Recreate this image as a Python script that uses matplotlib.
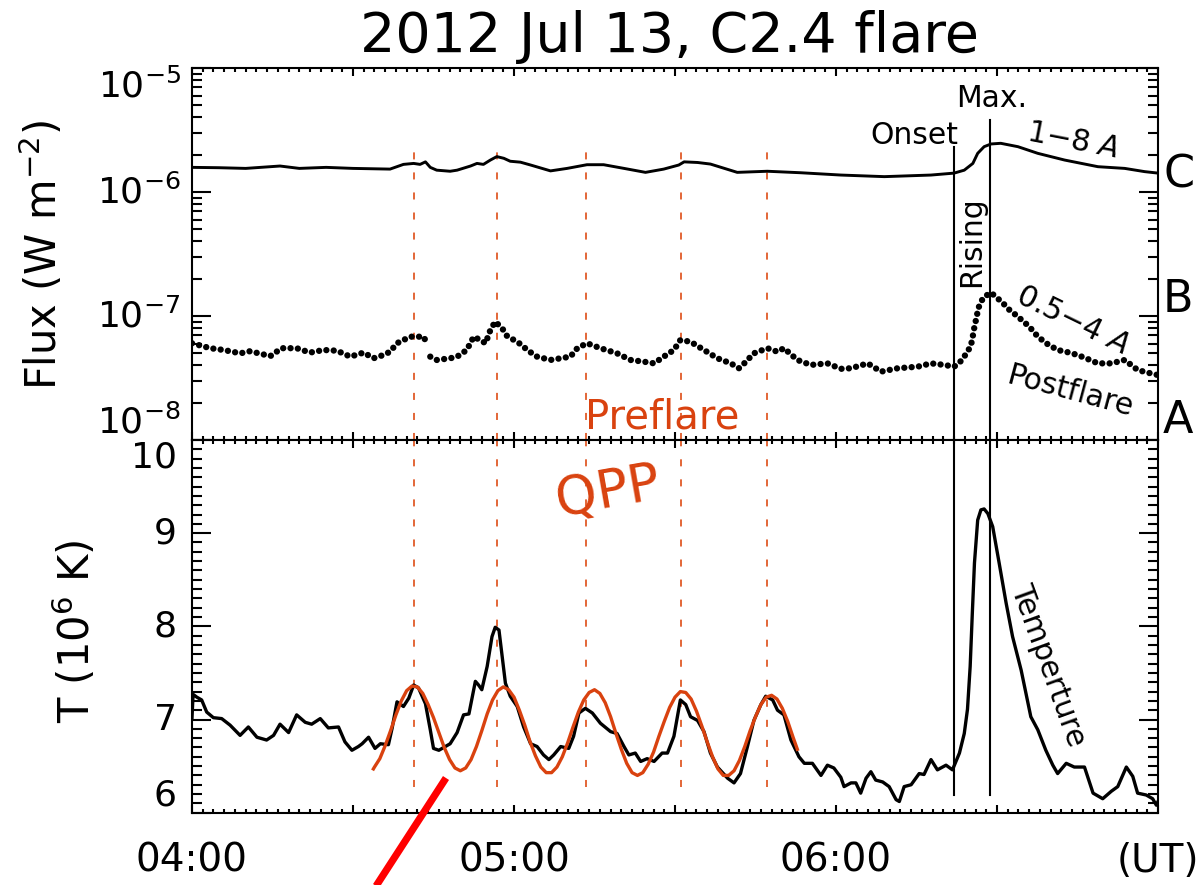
import numpy as np
import matplotlib
matplotlib.use("Agg")
import matplotlib.pyplot as plt
from matplotlib.ticker import MultipleLocator, LogLocator, NullFormatter
from matplotlib.lines import Line2D

# ---------------- data (time in minutes after 04:00 UT) ----------------
# GOES 1-8 A flux, units of 1e-6 W m^-2
t_long = [0, 5, 10, 16.4, 20, 25, 30, 36.9, 39.4, 41.3, 42.5, 43.5, 44.4, 45.6,
          48.1, 49.4, 51.9, 53.1, 54.3, 55.6, 56.8, 58.1, 59.3, 61.2, 63.1, 66.8,
          69.9, 73.6, 76.7, 80.5, 84.5, 87.9, 90.7, 91.7, 94.2, 96.6, 101.6, 107.2,
          113.4, 120.9, 129, 137.7, 142, 143.9, 145.5, 146.4, 147.6, 148.9, 150.7,
          153.9, 157.6, 162.6, 168.8, 173.8, 177.5, 180]
flux_long = [1.58, 1.57, 1.55, 1.62, 1.55, 1.58, 1.55, 1.53, 1.67, 1.70, 1.67, 1.75,
             1.58, 1.50, 1.47, 1.50, 1.62, 1.70, 1.67, 1.81, 1.93, 1.87, 1.77, 1.74,
             1.65, 1.48, 1.55, 1.66, 1.66, 1.55, 1.44, 1.53, 1.65, 1.75, 1.73, 1.68,
             1.44, 1.47, 1.43, 1.37, 1.33, 1.37, 1.42, 1.50, 1.70, 2.05, 2.32, 2.44,
             2.47, 2.32, 2.05, 1.81, 1.60, 1.55, 1.46, 1.42]

# GOES 0.5-4 A flux, units of 1e-8 W m^-2 (nan = data gap)
t_short = [0, 3.4, 5.9, 9.0, 10.8, 14.6, 16.7, 19.5, 22.0, 24.5, 27.0, 29.5, 32.0,
           33.8, 35.7, 36.9, 38.2, 39.4, 40.7, 41.9, 43.2, 43.8, 44.1, 44.4, 45.6,
           48.1, 49.4, 51.2, 52.5, 53.7, 54.7, 55.6, 56.5, 57.8, 58.7, 60.0, 61.3,
           62.5, 64.3, 66.8, 70.5, 71.8, 73.6, 76.1, 79.2, 81.7, 84.2, 86.1, 87.9,
           89.8, 91.0, 92.9, 95.4, 97.9, 100.4, 101.9, 102.9, 104.7, 107.2, 109.1,
           110.3, 112.8, 115.3, 118.4, 120.9, 122.8, 125.9, 128.4, 131.5, 135.2,
           137.7, 140.2, 142.0, 143.0, 143.9, 144.5, 145.1, 145.5, 145.8, 146.2,
           146.5, 147.1, 147.6, 148.9, 150.1, 151.2, 152.0, 153.0, 153.9, 154.8,
           155.7, 156.7, 157.6, 159.5, 161.3, 163.2, 165.0, 166.9, 168.8, 171.3,
           173.8, 176.2, 178.0, 180.0]
flux_short = [6.03, 5.50, 5.32, 5.00, 5.20, 4.75, 5.50, 5.50, 5.07, 5.32, 5.25, 4.70,
              5.07, 4.56, 4.85, 5.15, 6.03, 6.40, 6.81, 6.81, 6.81, 5.84, np.nan,
              4.70, 4.42, 4.56, 4.70, 5.32, 6.81, 6.40, 6.03, 7.71, 9.00, 7.96, 6.90,
              6.40, 5.90, 5.30, 4.70, 4.42, 4.70, 5.50, 6.03, 5.50, 5.00, 4.42, 4.28,
              4.15, 4.70, 5.32, 6.40, 6.20, 5.32, 4.56, 4.15, 3.79, 4.15, 5.00, 5.50,
              5.15, 5.50, 4.42, 4.03, 4.15, 3.75, 3.79, 4.15, 3.56, 3.79, 3.90, 4.15,
              4.03, 3.90, 4.20, 4.70, 5.20, 5.65, 6.90, 8.20, 9.80, 11.5, 13.2, 14.3,
              15.4, 13.9, 12.6, 11.5, 10.6, 9.90, 9.10, 8.45, 7.60, 6.81, 5.90, 5.32,
              5.10, 4.85, 4.50, 4.15, 4.15, 4.42, 3.67, 3.50, 3.34]

# Temperature, units of 1e6 K
t_temp = [0, 0.2, 0.9, 1.8, 2.74, 3.98, 5.53, 7.09, 8.96, 10.5, 12.1, 13.9, 15.2,
          16.4, 18.0, 19.5, 21.1, 22.3, 23.9, 25.4, 27.3, 28.5, 29.8, 31.0, 31.7,
          32.9, 34.1, 35.1, 36.6, 37.3, 38.2, 39.4, 40.4, 41.3, 42.2, 43.5, 44.4,
          45.0, 46.0, 47.2, 48.1, 49.4, 50.6, 51.6, 52.8, 53.4, 54.0, 55.0, 55.9,
          56.5, 57.2, 57.8, 58.4, 59.3, 60.6, 61.8, 63.1, 64.3, 65.5, 66.5, 67.4,
          68.7, 70.2, 71.1, 72.1, 73.3, 74.6, 76.1, 78.0, 79.2, 80.5, 81.4, 82.6,
          83.6, 84.8, 86.1, 87.6, 88.6, 89.8, 91.0, 92.0, 92.9, 94.2, 95.4, 96.6,
          97.9, 99.8, 101.0, 102.2, 103.5, 104.7, 106.0, 106.9, 108.2, 109.1, 110.3,
          111.6, 113.1, 114.1, 115.6, 117.2, 118.4, 119.6, 120.9, 121.5, 122.8,
          123.7, 124.6, 125.6, 126.5, 127.4, 128.7, 129.9, 131.2, 131.8, 132.7,
          134.0, 135.5, 136.4, 137.7, 138.9, 140.5, 141.7, 143.0, 143.9, 144.5,
          145.0, 145.4, 145.8, 146.4, 147.0, 147.6, 148.3, 149.2, 150.4, 151.7,
          152.9, 154.5, 156.3, 157.6, 159.1, 160.4, 161.3, 162.9, 164.4, 166.3,
          167.9, 169.7, 171.3, 172.5, 174.1, 175.3, 176.2, 177.8, 179.0, 179.7, 180.0]
temp = [7.02, 7.27, 7.24, 7.21, 7.08, 7.02, 7.01, 6.94, 6.83, 6.92, 6.81, 6.78, 6.83,
        6.95, 6.86, 7.05, 6.97, 6.95, 7.01, 6.91, 6.92, 6.76, 6.67, 6.71, 6.74, 6.81,
        6.69, 6.74, 6.73, 6.91, 7.19, 7.14, 7.23, 7.37, 7.34, 7.17, 6.89, 6.69, 6.67,
        6.71, 6.74, 6.86, 7.05, 7.06, 7.41, 7.37, 7.32, 7.57, 7.89, 7.99, 7.96, 7.67,
        7.39, 7.25, 7.14, 6.92, 6.74, 6.71, 6.62, 6.57, 6.62, 6.71, 6.69, 6.82, 7.07,
        7.12, 7.07, 6.96, 6.87, 6.85, 6.71, 6.62, 6.64, 6.55, 6.58, 6.55, 6.64, 6.64,
        6.82, 7.21, 7.16, 7.03, 6.99, 6.87, 6.64, 6.49, 6.37, 6.32, 6.42, 6.71, 6.99,
        7.16, 7.25, 7.21, 7.10, 7.05, 6.78, 6.60, 6.53, 6.53, 6.40, 6.51, 6.48, 6.38,
        6.28, 6.32, 6.32, 6.21, 6.37, 6.44, 6.35, 6.33, 6.28, 6.14, 6.12, 6.28, 6.30,
        6.42, 6.41, 6.57, 6.46, 6.51, 6.46, 6.64, 6.85, 7.11, 7.57, 8.14, 8.68, 9.14,
        9.25, 9.26, 9.21, 9.07, 8.68, 8.25, 7.89, 7.53, 7.03, 6.89, 6.67, 6.51, 6.42,
        6.53, 6.49, 6.49, 6.21, 6.15, 6.23, 6.28, 6.49, 6.39, 6.21, 6.19, 6.15, 6.08,
        6.12]

# Sinusoidal QPP fit, units of 1e6 K
t_fit = np.r_[33.8, np.arange(34, 113), 112.8]
temp_fit = [6.47, 6.49, 6.58, 6.72, 6.88, 7.05, 7.20, 7.31, 7.36, 7.35, 7.28, 7.16,
            7.02, 6.86, 6.70, 6.57, 6.48, 6.45, 6.48, 6.57, 6.71, 6.88, 7.06, 7.21,
            7.31, 7.35, 7.32, 7.24, 7.10, 6.94, 6.76, 6.61, 6.49, 6.43, 6.43, 6.49,
            6.60, 6.75, 6.92, 7.08, 7.21, 7.29, 7.32, 7.28, 7.18, 7.03, 6.85, 6.68,
            6.53, 6.43, 6.40, 6.43, 6.52, 6.65, 6.82, 6.98, 7.13, 7.24, 7.30, 7.29,
            7.22, 7.09, 6.93, 6.76, 6.60, 6.47, 6.40, 6.40, 6.45, 6.56, 6.71, 6.88,
            7.03, 7.16, 7.24, 7.26, 7.22, 7.12, 6.98, 6.81, 6.68]

qpp_times = [41.4, 56.8, 73.4, 91.1, 107.1]
onset_time = 141.9
max_time = 148.7

xtick_pos = [0, 30, 60, 90, 120, 150, 180]
xtick_lab = ["04:00", "", "05:00", "", "06:00", "", "(UT)"]
flux_ticks = [1e-8, 1e-7, 1e-6, 1e-5]
flux_tick_lab = [r"$10^{-8}$", r"$10^{-7}$", r"$10^{-6}$", r"$10^{-5}$"]
temp_ticks = [6, 7, 8, 9, 10]
temp_tick_lab = ["6", "7", "8", "9", "10"]
goes_class = ["A", "B", "C"]

# ---------------- figure ----------------
W, H = 1199, 885
fig = plt.figure(figsize=(W / 100, H / 100), dpi=100)
plt.rcParams["font.family"] = ["DejaVu Sans"]


def fx(px):
    return px / W


def fy(py):
    return 1 - py / H


L, R, T1, M, B2 = 192, 1158, 68, 440, 812.7
ax1 = fig.add_axes([fx(L), fy(M), fx(R) - fx(L), fy(T1) - fy(M)])
ax2 = fig.add_axes([fx(L), fy(B2), fx(R) - fx(L), fy(M) - fy(B2)])

RED = "#D9420F"
RED_DASH = "#E05A28"

# top panel
ax1.set_yscale("log")
ax1.plot(t_long, np.array(flux_long) * 1e-6, color="k", lw=2.1, zorder=4)
ax1.plot(t_short, np.array(flux_short) * 1e-8, color="k", lw=4.6,
         linestyle=(0, (0.001, 1.15)), dash_capstyle="round", zorder=4)
ax1.set_ylim(1e-8, 1e-5)
ax1.set_yticks(flux_ticks, labels=flux_tick_lab)
ax1.yaxis.set_minor_locator(LogLocator(base=10, subs=np.arange(2, 10)))
ax1.yaxis.set_minor_formatter(NullFormatter())

# bottom panel
ax2.plot(t_temp, temp, color="k", lw=2.4, zorder=4)
ax2.plot(t_fit, temp_fit, color=RED, lw=2.4, zorder=5)
ax2.set_ylim(6, 10)
ax2.set_yticks(temp_ticks, labels=temp_tick_lab)
ax2.yaxis.set_minor_locator(MultipleLocator(0.1))

for ax in (ax1, ax2):
    ax.set_xlim(0, 180)
    ax.set_xticks(xtick_pos)
    ax.xaxis.set_minor_locator(MultipleLocator(2))
    ax.tick_params(axis="both", which="both", direction="in", top=True, right=True,
                   width=1.5, colors="k")
    ax.tick_params(axis="y", which="major", length=14)
    ax.tick_params(axis="y", which="minor", length=7)
    ax.tick_params(axis="x", which="major", length=5.5)
    ax.tick_params(axis="x", which="minor", length=2.6)
    for s in ax.spines.values():
        s.set_linewidth(1.5)

ax1.tick_params(axis="x", labelbottom=False)
ax1.tick_params(axis="y", labelsize=26, pad=8)
ax2.set_xticklabels(xtick_lab)
ax2.tick_params(axis="x", labelsize=28, pad=21)
ax2.tick_params(axis="y", labelsize=26, pad=11)

for lbl, va in zip(ax1.get_yticklabels(), ["bottom", "center", "center", "top"]):
    lbl.set_verticalalignment(va)
for lbl, va in zip(ax2.get_yticklabels(), ["bottom", "center", "center", "center", "top"]):
    lbl.set_verticalalignment(va)

# vertical marker lines
for t in qpp_times:
    ax1.axvline(t, ymin=0, ymax=(M - 143) / (M - T1), color=RED_DASH, lw=1.3,
                ls=(0, (3.9, 7.2)), zorder=2)
    ax2.axvline(t, ymin=(B2 - 787) / (B2 - M), ymax=1, color=RED_DASH, lw=1.3,
                ls=(0, (3.9, 7.2)), zorder=2)
ax1.axvline(onset_time, ymin=0, ymax=(M - 147) / (M - T1), color="k", lw=1.5, zorder=3)
ax1.axvline(max_time, ymin=0, ymax=(M - 120) / (M - T1), color="k", lw=1.5, zorder=3)
ax2.axvline(onset_time, ymin=(B2 - 795) / (B2 - M), ymax=1, color="k", lw=1.5, zorder=3)
ax2.axvline(max_time, ymin=(B2 - 795) / (B2 - M), ymax=1, color="k", lw=1.5, zorder=3)

# ---------------- texts ----------------
fs = 21.5
fig.text(fx(670), fy(52), "2012 Jul 13, C2.4 flare", fontsize=40, ha="center",
         va="baseline")
fig.text(fx(57), fy(255), r"Flux (W m$^{-2}$)", fontsize=30, rotation=90,
         rotation_mode="anchor", ha="center", va="baseline")
fig.text(fx(90), fy(631), r"T (10$^{6}$ K)", fontsize=30, rotation=90,
         rotation_mode="anchor", ha="center", va="baseline")

fig.text(fx(992), fy(107), "Max.", fontsize=fs, ha="center", va="baseline")
fig.text(fx(958), fy(144), "Onset", fontsize=fs, ha="right", va="baseline")
fig.text(fx(1073), fy(141), r"1$-$8 $\mathit{A}$", fontsize=fs, rotation=-11,
         rotation_mode="anchor", ha="center", va="center")
fig.text(fx(1072), fy(320), r"0.5$-$4 $\mathit{A}$", fontsize=fs, rotation=-26,
         rotation_mode="anchor", ha="center", va="center")
fig.text(fx(1070), fy(392), "Postflare", fontsize=fs, rotation=-15,
         rotation_mode="anchor", ha="center", va="center")
fig.text(fx(972), fy(242), "Rising", fontsize=fs, rotation=90,
         rotation_mode="anchor", ha="center", va="center")
fig.text(fx(1048), fy(665), "Temperture", fontsize=fs, rotation=-70,
         rotation_mode="anchor", ha="center", va="center")
fig.text(fx(585), fy(428), "Preflare", fontsize=29, color=RED, ha="left",
         va="baseline")
fig.text(fx(608), fy(492), "QPP", fontsize=38, color=RED, rotation=10,
         rotation_mode="anchor", ha="center", va="center")

for cls, py in zip(goes_class, [433, 312, 188]):
    fig.text(fx(1163), fy(py), cls, fontsize=32, ha="left", va="baseline")

# red slash annotation below the axes
fig.add_artist(Line2D([fx(446), fx(367)], [fy(778), fy(900)], transform=fig.transFigure,
                      color="red", lw=5.2, solid_capstyle="butt", clip_on=False))

fig.savefig("out.png", dpi=100)
